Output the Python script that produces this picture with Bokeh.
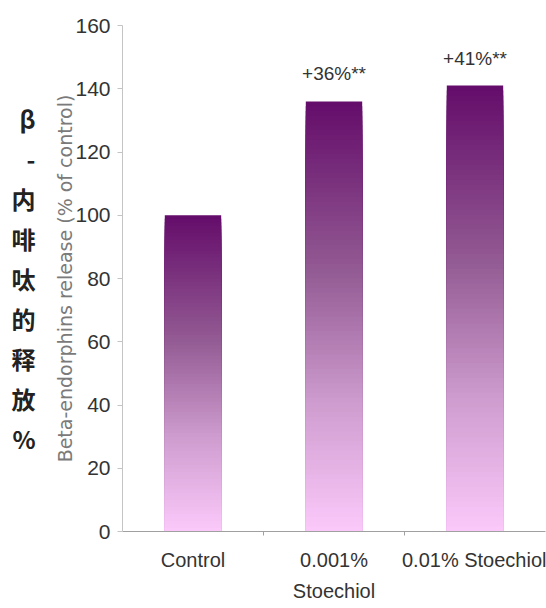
import numpy as np
from bokeh.plotting import figure
from bokeh.models import Range1d, FixedTicker, LinearAxis
from bokeh.embed import file_html
from bokeh.resources import INLINE
from bokeh.core.properties import value

# ---- data ----
categories = ["Control", "0.001%\nStoechiol", "0.01% Stoechiol"]
release = [100, 136, 141]
change_labels = ["", "+36%**", "+41%**"]
y_ticks = [0, 20, 40, 60, 80, 100, 120, 140, 160]
y_title = "Beta-endorphins release (% of control)"
cn_title = "β\n-\n内\n啡\n呔\n的\n释\n放\n%"

SANS = "Liberation Sans"

positions = [i + 0.5 for i in range(len(categories))]

p = figure(width=546, height=608, output_backend="svg", toolbar_location=None,
           x_range=Range1d(0, len(categories)), y_range=Range1d(0, 160),
           min_border_left=122, min_border_right=1, min_border_top=25,
           min_border_bottom=77)
p.outline_line_color = None
p.xgrid.visible = False
p.ygrid.visible = False
p.background_fill_color = "white"

# ---- gradient bars (stacked shrinking bars, darkest at top of each bar) ----
stops = [(0.0, (251, 202, 251)), (0.3, (206, 156, 206)), (0.6, (148, 92, 148)), (1.0, (100, 12, 106))]


def grad(f):
    for (f0, c0), (f1, c1) in zip(stops[:-1], stops[1:]):
        if f0 <= f <= f1:
            t = (f - f0) / (f1 - f0)
            c = [int(round(a + (b - a) * t)) for a, b in zip(c0, c1)]
            return "#%02x%02x%02x" % tuple(c)
    return "#%02x%02x%02x" % stops[-1][1]


N = 90
xs, tops, cols = [], [], []
for x, v in zip(positions, release):
    for j in range(N):
        frac = (N - j) / N
        xs.append(x)
        tops.append(v * frac)
        cols.append(grad(frac - 0.5 / N))
p.vbar(x=xs, top=tops, bottom=0, width=0.4, fill_color=cols, line_color=None)

# ---- annotations ----
p.text(x=positions, y=release, text=change_labels, text_align="center",
       text_baseline="bottom", y_offset=-17, text_font=value(SANS),
       text_font_size="19px", text_color="#333333")

# ---- y axis ----
ya = p.yaxis[0]
ya.ticker = FixedTicker(ticks=y_ticks)
ya.axis_line_color = "#c4c4c4"
ya.major_tick_line_color = "#c4c4c4"
ya.major_tick_out = 5
ya.major_tick_in = 0
ya.minor_tick_line_color = None
ya.major_label_text_font = SANS
ya.major_label_text_font_size = "21px"
ya.major_label_text_color = "#333333"
ya.major_label_standoff = 7
ya.axis_label = y_title
ya.axis_label_text_font = "DejaVu Sans"
ya.axis_label_text_font_size = "19px"
ya.axis_label_text_font_style = "normal"
ya.axis_label_text_color = "#7a7a7a"
ya.axis_label_standoff = -4

# ---- Chinese vertical title (second, outer left axis without ticks) ----
cn_axis = LinearAxis(ticker=FixedTicker(ticks=[]), axis_line_color=None,
                     major_tick_line_color=None, minor_tick_line_color=None,
                     major_tick_out=0, major_label_standoff=0,
                     major_label_text_font_size="0px",
                     axis_label=cn_title, axis_label_orientation="horizontal",
                     axis_label_text_font="Noto Sans CJK SC",
                     axis_label_text_font_size="24px",
                     axis_label_text_font_style="bold",
                     axis_label_text_color="#222222",
                     axis_label_text_line_height=1.14,
                     axis_label_standoff=16)
p.add_layout(cn_axis, "left")

# ---- x axis ----
xa = p.xaxis[0]
xa.ticker = FixedTicker(ticks=positions, minor_ticks=[1, 2])
xa.major_label_overrides = {pos: lab for pos, lab in zip(positions, categories)}
xa.axis_line_color = "#a0a0a0"
xa.major_tick_line_color = None
xa.minor_tick_line_color = "#a0a0a0"
xa.minor_tick_out = 4
xa.minor_tick_in = 0
xa.major_label_text_font = SANS
xa.major_label_text_font_size = "20px"
xa.major_label_text_color = "#333333"
xa.major_label_standoff = 11
xa.major_label_text_line_height = 1.45

open("out.html", "w").write(file_html(p, INLINE))
